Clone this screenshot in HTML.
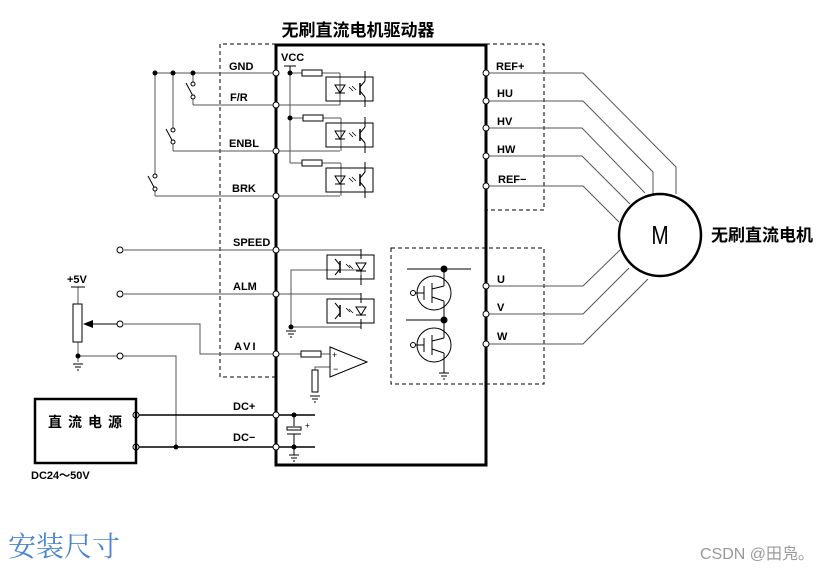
<!DOCTYPE html>
<html><head><meta charset="utf-8"><style>
html,body{margin:0;padding:0;background:#fff;width:835px;height:572px;overflow:hidden}
svg{display:block}
.l{font-family:"Liberation Sans",sans-serif;font-weight:bold;font-size:11px;fill:#000}
</style></head><body>
<svg width="835" height="572" viewBox="0 0 835 572" xmlns="http://www.w3.org/2000/svg">
<defs>
<g id="opto">
 <rect x="0" y="0" width="47" height="24" fill="none" stroke="#000" stroke-width="1"/>
 <path d="M9 8 h10 l-5 8 z" fill="none" stroke="#000"/>
 <line x1="9" y1="16" x2="19" y2="16" stroke="#000"/>
 <line x1="23" y1="10" x2="27" y2="14" stroke="#000" stroke-width="0.8"/>
 <line x1="26" y1="9" x2="30" y2="13" stroke="#000" stroke-width="0.8"/>
 <line x1="34" y1="6" x2="34" y2="18" stroke="#000" stroke-width="1.5"/>
 <line x1="34" y1="10" x2="39" y2="4" stroke="#000"/>
 <line x1="34" y1="14" x2="39" y2="20" stroke="#000"/>
 <line x1="39" y1="4" x2="39" y2="-6" stroke="#000"/>
 <line x1="39" y1="20" x2="39" y2="30" stroke="#000"/>
</g>
<g id="opto2">
 <rect x="0" y="0" width="47" height="24" fill="none" stroke="#000" stroke-width="1"/>
 <path d="M29 8 h10 l-5 8 z" fill="none" stroke="#000"/>
 <line x1="29" y1="16" x2="39" y2="16" stroke="#000"/>
 <line x1="34" y1="4" x2="34" y2="-6" stroke="#000"/>
 <line x1="34" y1="20" x2="34" y2="30" stroke="#000"/>
 <line x1="22" y1="10" x2="26" y2="14" stroke="#000" stroke-width="0.8"/>
 <line x1="19" y1="9" x2="23" y2="13" stroke="#000" stroke-width="0.8"/>
 <line x1="13" y1="6" x2="13" y2="18" stroke="#000" stroke-width="1.5"/>
 <line x1="13" y1="10" x2="8" y2="4" stroke="#000"/>
 <line x1="13" y1="14" x2="8" y2="20" stroke="#000"/>
</g>
<g id="gnd"><line x1="-5" y1="0" x2="5" y2="0" stroke="#000"/><line x1="-3" y1="3" x2="3" y2="3" stroke="#000"/><line x1="-1" y1="6" x2="1" y2="6" stroke="#000"/></g>
</defs>

<g fill="none" stroke="#000" stroke-width="1" stroke-dasharray="4,3">
 <path d="M276 44 H220 V377 H276"/>
 <path d="M486 44 H544 V210 H486"/>
 <rect x="391" y="248" width="153" height="136"/>
</g>

<g stroke="#555" stroke-width="1" fill="none">
 <line x1="155" y1="73" x2="276" y2="73"/>
 <line x1="155" y1="73" x2="155" y2="177"/>
 <line x1="155" y1="189" x2="155" y2="196"/>
 <line x1="155" y1="196" x2="276" y2="196"/>
 <line x1="173" y1="73" x2="173" y2="130"/>
 <line x1="173" y1="142" x2="173" y2="151"/>
 <line x1="173" y1="151" x2="276" y2="151"/>
 <line x1="193" y1="73" x2="193" y2="83"/>
 <line x1="193" y1="97" x2="193" y2="105"/>
 <line x1="193" y1="105" x2="340" y2="105"/>
 <line x1="276" y1="151" x2="340" y2="151"/>
 <line x1="276" y1="196" x2="340" y2="196"/>
 <line x1="290" y1="73" x2="290" y2="163"/>
 <line x1="290" y1="73" x2="302" y2="73"/><line x1="322" y1="73" x2="340" y2="73"/><line x1="340" y1="73" x2="340" y2="105"/>
 <line x1="290" y1="118" x2="303" y2="118"/><line x1="323" y1="118" x2="341" y2="118"/><line x1="341" y1="118" x2="341" y2="151"/>
 <line x1="290" y1="163" x2="302" y2="163"/><line x1="322" y1="163" x2="341" y2="163"/><line x1="341" y1="163" x2="341" y2="196"/>
 <line x1="124" y1="250" x2="361" y2="250"/>
 <line x1="124" y1="294" x2="361" y2="294"/>
 <polyline points="361,281 361,270 291,270 291,327 361,327 361,325"/>
 <polyline points="124,324 200,324 200,354 301,354"/>
 <line x1="321" y1="354" x2="330" y2="354"/>
 <polyline points="330,367 315,367 315,370"/>
 <line x1="78" y1="287" x2="78" y2="304"/>
 <line x1="78" y1="342" x2="78" y2="362"/>
 <line x1="78" y1="356" x2="117" y2="356"/>
 <polyline points="123,356 176,356 176,447"/>
 <polyline points="486,73 583,73 676,167 676,194"/>
 <polyline points="486,101 583,101 653,172 653,196"/>
 <polyline points="486,128 582,128 645,193"/>
 <polyline points="486,156 582,156 630,204"/>
 <polyline points="486,186 583,186 619,222"/>
 <polyline points="486,286 583,286 620,250"/>
 <polyline points="486,314 583,314 629,268"/>
 <polyline points="486,344 583,344 648,279"/>
</g>
<g stroke="#000" stroke-width="1.5">
 <line x1="136" y1="415" x2="315" y2="415"/>
 <line x1="136" y1="447" x2="315" y2="447"/>
</g>
<g stroke="#000" stroke-width="1" fill="#fff">
 <line x1="148" y1="176" x2="155" y2="189"/>
 <line x1="166" y1="129" x2="173" y2="142"/>
 <line x1="186" y1="83" x2="193" y2="96"/>
 <circle cx="155" cy="176" r="2"/><circle cx="155" cy="189" r="2"/>
 <circle cx="173" cy="130" r="2"/><circle cx="173" cy="142" r="2"/>
 <circle cx="193" cy="84" r="2"/><circle cx="193" cy="97" r="2"/>
</g>
<g fill="#000"><circle cx="155" cy="73" r="2.5"/><circle cx="173" cy="73" r="2.5"/><circle cx="193" cy="73" r="2.5"/>
<circle cx="290" cy="73" r="2.5"/><circle cx="290" cy="118" r="2.5"/><circle cx="291" cy="327" r="2.5"/><circle cx="78" cy="356" r="2.5"/><circle cx="176" cy="447" r="2.5"/>
<circle cx="294" cy="415" r="2.5"/><circle cx="294" cy="447" r="2.5"/><circle cx="444" cy="269" r="3.5"/><circle cx="444" cy="320" r="3.5"/></g>

<line x1="284" y1="66" x2="296" y2="66" stroke="#000"/><line x1="290" y1="66" x2="290" y2="73" stroke="#000"/>
<text x="281" y="61" class="l" font-size="10">VCC</text>

<g fill="#fff" stroke="#000">
 <rect x="302" y="70" width="20" height="6"/><rect x="303" y="115" width="20" height="6"/><rect x="302" y="160" width="20" height="6"/>
 <rect x="301" y="351" width="20" height="6"/><rect x="312" y="370" width="6" height="22"/>
 <rect x="73" y="304" width="9" height="38"/>
</g>
<use href="#opto" x="326" y="77"/>
<use href="#opto" x="326" y="123"/>
<use href="#opto" x="326" y="168"/>
<use href="#opto2" x="327" y="255"/>
<use href="#opto2" x="327" y="299"/>
<use href="#gnd" x="291" y="331"/>
<use href="#gnd" x="315" y="396"/>
<use href="#gnd" x="78" y="364"/>
<use href="#gnd" x="294" y="455"/>
<use href="#gnd" x="444" y="373"/>

<path d="M330 347 L367 362 L330 377 Z" fill="#fff" stroke="#000"/>
<text x="332" y="358" font-family="Liberation Sans" font-size="9">+</text>
<text x="333" y="372" font-family="Liberation Sans" font-size="9">−</text>

<line x1="71" y1="287" x2="85" y2="287" stroke="#000"/>
<text x="67" y="283" class="l" font-size="10">+5V</text>
<line x1="90" y1="324" x2="117" y2="324" stroke="#000"/>
<path d="M83 324 L93 320 L93 328 Z" fill="#000"/>

<line x1="294" y1="415" x2="294" y2="426" stroke="#000"/>
<rect x="287" y="427" width="14" height="3" fill="#fff" stroke="#000"/>
<line x1="287" y1="434" x2="301" y2="434" stroke="#000"/>
<line x1="294" y1="434" x2="294" y2="455" stroke="#000"/>
<text x="305" y="428" font-family="Liberation Sans" font-size="8">+</text>

<g stroke="#000" fill="none">
 <line x1="407" y1="269" x2="471" y2="269"/>
 <line x1="406" y1="320" x2="444" y2="320"/>
 <circle cx="434" cy="293" r="17"/>
 <circle cx="434" cy="345" r="17"/>
 <line x1="444" y1="269" x2="444" y2="286"/><line x1="444" y1="286" x2="432" y2="289"/>
 <line x1="432" y1="283" x2="432" y2="303"/><line x1="432" y1="297" x2="444" y2="301"/><line x1="444" y1="301" x2="444" y2="320"/>
 <line x1="424" y1="286" x2="424" y2="300"/><line x1="415" y1="293" x2="424" y2="293"/>
 <line x1="444" y1="320" x2="444" y2="338"/><line x1="444" y1="338" x2="432" y2="341"/>
 <line x1="432" y1="335" x2="432" y2="355"/><line x1="432" y1="349" x2="444" y2="353"/><line x1="444" y1="353" x2="444" y2="373"/>
 <line x1="424" y1="338" x2="424" y2="352"/><line x1="415" y1="345" x2="424" y2="345"/>
 <circle cx="413" cy="293" r="2.5" fill="#fff"/><circle cx="413" cy="345" r="2.5" fill="#fff"/>
</g>

<path d="M276 45 H486 V465 H276 Z" fill="none" stroke="#000" stroke-width="3"/>
<text x="358" y="36" text-anchor="middle" font-family="Liberation Sans,'Noto Sans CJK SC',sans-serif" font-weight="bold" font-size="17">无刷直流电机驱动器</text>

<g fill="#fff" stroke="#000" stroke-width="1">
 <circle cx="276" cy="73" r="3"/><circle cx="276" cy="105" r="3"/><circle cx="276" cy="151" r="3"/><circle cx="276" cy="196" r="3"/>
 <circle cx="276" cy="250" r="3"/><circle cx="276" cy="294" r="3"/><circle cx="276" cy="354" r="3"/><circle cx="276" cy="415" r="3"/><circle cx="276" cy="447" r="3"/>
 <circle cx="486" cy="73" r="3"/><circle cx="486" cy="101" r="3"/><circle cx="486" cy="128" r="3"/><circle cx="486" cy="156" r="3"/><circle cx="486" cy="186" r="3"/>
 <circle cx="486" cy="286" r="3"/><circle cx="486" cy="314" r="3"/><circle cx="486" cy="344" r="3"/>
 <circle cx="120" cy="250" r="3"/><circle cx="120" cy="294" r="3"/><circle cx="120" cy="324" r="3"/><circle cx="120" cy="356" r="3"/>
 <circle cx="136" cy="415" r="3"/><circle cx="136" cy="447" r="3"/>
</g>

<text x="229" y="70" class="l">GND</text>
<text x="230" y="101" class="l">F/R</text>
<text x="229" y="147" class="l">ENBL</text>
<text x="232" y="192" class="l">BRK</text>
<text x="233" y="246" class="l">SPEED</text>
<text x="233" y="290" class="l">ALM</text>
<text x="234" y="350" class="l" letter-spacing="2">AVI</text>
<text x="233" y="410" class="l">DC+</text>
<text x="233" y="441" class="l">DC−</text>
<text x="496" y="70" class="l">REF+</text>
<text x="497" y="97" class="l">HU</text>
<text x="497" y="125" class="l">HV</text>
<text x="497" y="153" class="l">HW</text>
<text x="498" y="183" class="l">REF−</text>
<text x="497" y="283" class="l">U</text>
<text x="497" y="311" class="l">V</text>
<text x="497" y="340" class="l">W</text>

<circle cx="660" cy="235" r="41" fill="#fff" stroke="#000" stroke-width="2.5"/>
<text x="660" y="244" text-anchor="middle" font-family="Liberation Sans" font-size="26" transform="translate(660 0) scale(0.8 1) translate(-660 0)">M</text>
<text x="711" y="241" font-family="Liberation Sans,'Noto Sans CJK SC',sans-serif" font-weight="bold" font-size="17">无刷直流电机</text>

<rect x="35" y="399" width="101" height="64" fill="none" stroke="#000" stroke-width="2.5"/>
<text x="88" y="427" text-anchor="middle" font-family="Liberation Sans,'Noto Sans CJK SC',sans-serif" font-weight="bold" font-size="14" letter-spacing="6">直流电源</text>
<text x="31" y="479" class="l">DC24～50V</text>

<text x="8" y="556" font-family="'Noto Serif CJK SC',serif" font-size="28" fill="#4a86d0">安装尺寸</text>
<text x="700" y="559" font-family="Liberation Sans,'Noto Sans CJK SC',sans-serif" font-size="16" fill="#999">CSDN @田凫。</text>
</svg>
</body></html>
